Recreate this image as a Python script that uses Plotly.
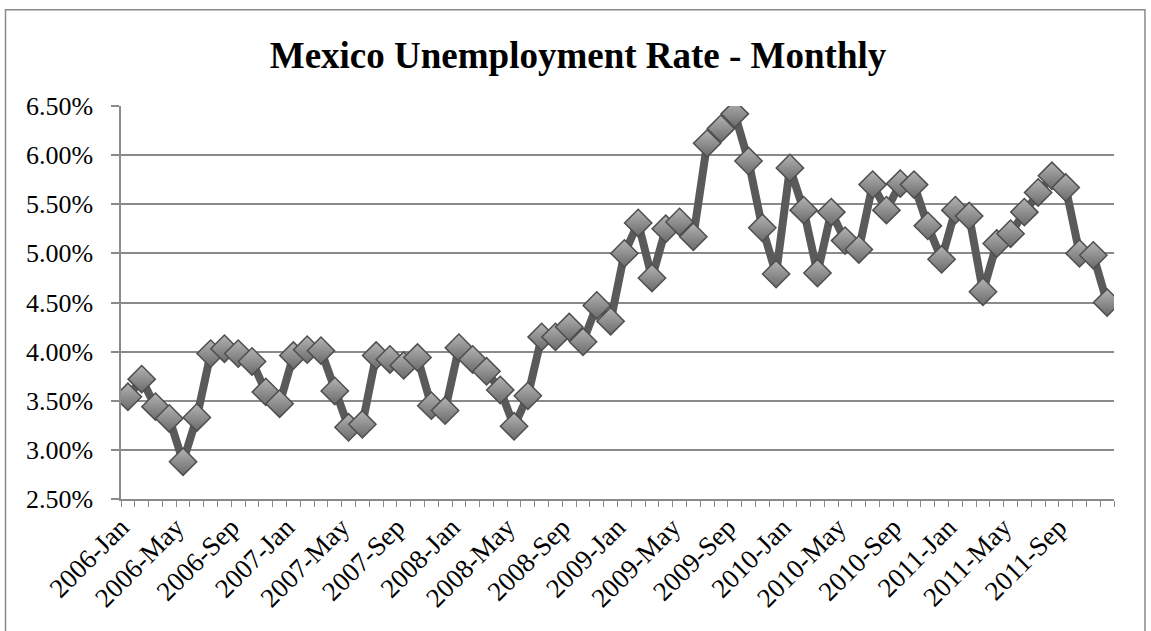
import plotly.graph_objects as go

# Monthly unemployment rate, Mexico (percent)
years = [2006, 2007, 2008, 2009, 2010, 2011]
month_names = ["Jan", "Feb", "Mar", "Apr", "May", "Jun",
               "Jul", "Aug", "Sep", "Oct", "Nov", "Dec"]
months = [f"{y}-{m}" for y in years for m in month_names]

rate_2006 = [3.54, 3.72, 3.44, 3.32, 2.88, 3.33, 3.98, 4.03, 3.98, 3.90, 3.59, 3.47]
rate_2007 = [3.96, 4.02, 4.01, 3.60, 3.23, 3.26, 3.96, 3.92, 3.86, 3.94, 3.45, 3.40]
rate_2008 = [4.04, 3.92, 3.80, 3.61, 3.24, 3.55, 4.15, 4.15, 4.25, 4.10, 4.47, 4.31]
rate_2009 = [5.00, 5.31, 4.75, 5.25, 5.32, 5.17, 6.12, 6.27, 6.42, 5.94, 5.26, 4.79]
rate_2010 = [5.87, 5.44, 4.80, 5.42, 5.13, 5.04, 5.70, 5.44, 5.71, 5.70, 5.28, 4.94]
rate_2011 = [5.44, 5.38, 4.61, 5.10, 5.20, 5.42, 5.62, 5.79, 5.67, 5.00, 4.98, 4.50]
rates = rate_2006 + rate_2007 + rate_2008 + rate_2009 + rate_2010 + rate_2011

# every fourth month gets a label
tick_text = [m if i % 4 == 0 else "" for i, m in enumerate(months)]

SERIF = "Liberation Serif"
AXIS_GREY = "#8a8a8a"

fig = go.Figure()
fig.add_trace(go.Scatter(
    x=months,
    y=rates,
    mode="lines+markers",
    line=dict(color="#5a5a5a", width=8),
    marker=dict(
        symbol="diamond",
        size=21,
        color="#b4b4b4",
        gradient=dict(type="vertical", color="#6a6a6a"),
        line=dict(color="#4e4e4e", width=1.5),
    ),
    hovertemplate="%{x}: %{y:.2f}%<extra></extra>",
))

# outer chart frame
fig.add_shape(type="rect", xref="paper", yref="paper",
              x0=-0.1163, x1=1.0312, y0=-0.36, y1=1.2446,
              line=dict(color=AXIS_GREY, width=1.5), layer="below")

fig.update_layout(
    width=1151, height=631,
    margin=dict(l=121, r=37, t=106, b=132),
    paper_bgcolor="white",
    plot_bgcolor="white",
    showlegend=False,
    title=dict(
        text="<b>Mexico Unemployment Rate - Monthly</b>",
        font=dict(family=SERIF, size=37, color="black"),
        x=578 / 1151, xanchor="center", xref="container",
        y=1 - 55 / 631, yanchor="middle", yref="container",
    ),
    xaxis=dict(
        type="category",
        tickmode="array",
        tickvals=months,
        ticktext=tick_text,
        tickson="boundaries",
        ticks="outside",
        ticklen=6,
        tickwidth=1.2,
        tickcolor=AXIS_GREY,
        tickangle=-45,
        ticklabelshift=-7,
        tickfont=dict(family=SERIF, size=27, color="black"),
        showgrid=False,
        showline=True,
        linecolor=AXIS_GREY,
        linewidth=1.5,
        range=[-0.5, len(months) - 0.5],
        zeroline=False,
    ),
    yaxis=dict(
        range=[2.5, 6.5],
        dtick=0.5,
        tick0=2.5,
        tickformat=".2f",
        ticksuffix="%",
        ticks="outside",
        ticklen=8,
        tickwidth=1.5,
        tickcolor=AXIS_GREY,
        ticklabelstandoff=13,
        tickfont=dict(family=SERIF, size=26, color="black"),
        showgrid=True,
        gridcolor=AXIS_GREY,
        gridwidth=1.5,
        showline=True,
        linecolor=AXIS_GREY,
        linewidth=1.5,
        zeroline=False,
    ),
)

fig.write_html("out.html")
